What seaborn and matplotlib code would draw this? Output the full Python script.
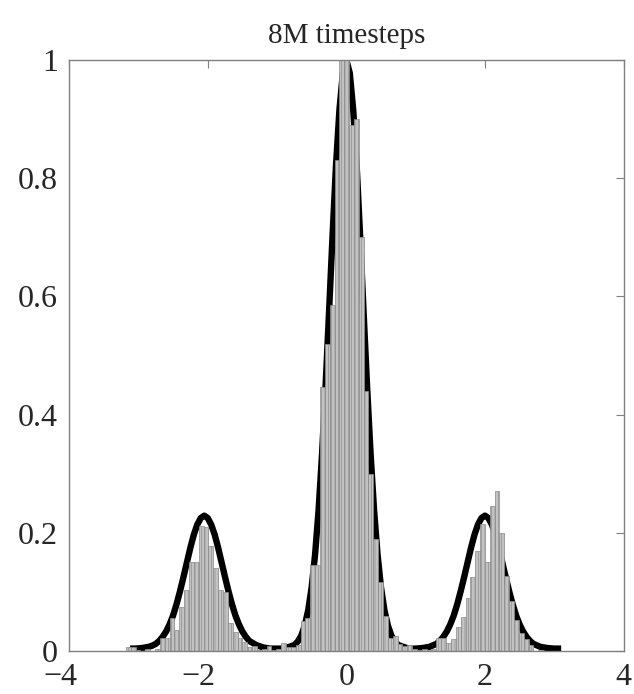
import numpy as np
import pandas as pd
import matplotlib
matplotlib.use("Agg")
import matplotlib.pyplot as plt
import matplotlib.transforms as mtransforms
import seaborn as sns

# ---- data ----
bin_start = -3.18
bin_width = 0.07
hist_heights = [
    0.007, 0.007, 0.002, 0.0, 0.003, 0.0, 0.004, 0.022, 0.022, 0.056,
    0.036, 0.075, 0.104, 0.15, 0.15, 0.212, 0.21, 0.177, 0.14, 0.103,
    0.10, 0.047, 0.032, 0.022, 0.015, 0.007, 0.009, 0.002, 0.004, 0.008,
    0.002, 0.004, 0.013, 0.007, 0.007, 0.01, 0.05, 0.055, 0.146, 0.146,
    0.446, 0.52, 0.586, 0.83, 1.0, 1.0, 0.89, 0.90, 0.70, 0.44,
    0.30, 0.19, 0.117, 0.06, 0.022, 0.025, 0.012, 0.008, 0.01, 0.004,
    0.002, 0.004, 0.002, 0.003, 0.022, 0.022, 0.013, 0.02, 0.04, 0.057,
    0.09, 0.125, 0.17, 0.215, 0.15, 0.245, 0.27, 0.20, 0.127, 0.085,
    0.052, 0.03, 0.02, 0.01, 0.0, 0.002, 0.0, 0.0, 0.0, 0.0,
]

curve_x = [-3.12, -3.05, -2.95, -2.85, -2.8, -2.75, -2.7, -2.65, -2.6, -2.55, -2.5, -2.45, -2.4,
           -2.35, -2.3, -2.25, -2.2, -2.15, -2.1, -2.05, -2.0, -1.95, -1.9, -1.85,
           -1.8, -1.75, -1.7, -1.65, -1.6, -1.55, -1.5, -1.45, -1.4, -1.3, -1.2, -1.1,
           -0.9, -0.8, -0.75, -0.7, -0.65, -0.6, -0.55, -0.5, -0.45, -0.4, -0.35,
           -0.3, -0.25, -0.2, -0.15, -0.1, -0.05, 0.0, 0.05, 0.1, 0.15, 0.2, 0.25,
           0.3, 0.35, 0.4, 0.45, 0.5, 0.55, 0.6, 0.65, 0.7, 0.75, 0.8, 0.9, 1.0,
           1.1, 1.2, 1.3, 1.35, 1.4, 1.45, 1.5, 1.55, 1.6, 1.65, 1.7, 1.75, 1.8, 1.85,
           1.9, 1.95, 2.0, 2.05, 2.1, 2.15, 2.2, 2.25, 2.3, 2.35, 2.4, 2.45, 2.5,
           2.55, 2.6, 2.65, 2.7, 2.8, 2.9, 3.0, 3.1]
curve_y = [0.004, 0.004, 0.005, 0.007, 0.009, 0.012, 0.017, 0.024, 0.033, 0.045, 0.060, 0.079, 0.101,
           0.125, 0.150, 0.175, 0.197, 0.214, 0.225, 0.229, 0.225, 0.214, 0.197, 0.175,
           0.150, 0.125, 0.101, 0.079, 0.060, 0.045, 0.033, 0.024, 0.017, 0.010, 0.006, 0.004,
           0.004, 0.008, 0.010, 0.016, 0.026, 0.043, 0.069, 0.108, 0.164, 0.239, 0.334,
           0.447, 0.572, 0.700, 0.820, 0.915, 0.978, 1.0, 0.978, 0.915, 0.820, 0.700, 0.572,
           0.447, 0.334, 0.239, 0.164, 0.108, 0.069, 0.043, 0.026, 0.016, 0.010, 0.008, 0.004,
           0.004, 0.005, 0.007, 0.012, 0.017, 0.024, 0.033, 0.045, 0.060, 0.079, 0.101, 0.125,
           0.150, 0.175, 0.197, 0.214, 0.225, 0.229, 0.225, 0.214, 0.197, 0.175, 0.150, 0.125,
           0.101, 0.079, 0.060, 0.045, 0.033, 0.024, 0.017, 0.012, 0.007, 0.005, 0.004, 0.004]

title_text = "8M timesteps"
x_ticks = [-4, -2, 0, 2, 4]
y_ticks = [0, 0.2, 0.4, 0.6, 0.8, 1.0]
y_tick_labels = ["0", "0.2", "0.4", "0.6", "0.8", "1"]

# ---- style ----
sns.set_style("white")
plt.rcParams["font.family"] = ["Liberation Serif", "DejaVu Serif"]
plt.rcParams["axes.unicode_minus"] = True
plt.rcParams["hatch.linewidth"] = 0.45

n_bins = len(hist_heights)
edges = [float(e) for e in bin_start + bin_width * np.arange(n_bins + 1)]
centers = [(edges[i] + edges[i + 1]) / 2 for i in range(n_bins)]
hist_df = pd.DataFrame({"x": centers, "w": hist_heights})
curve_df = pd.DataFrame({"x": curve_x, "y": curve_y})

fig = plt.figure(figsize=(6.34, 6.94), dpi=100)
ax = fig.add_axes([0.109, 0.062, 0.8745, 0.8515])

sns.lineplot(data=curve_df, x="x", y="y", ax=ax, color="black", linewidth=4.6,
             sort=False, zorder=1, solid_capstyle="butt")
sns.histplot(data=hist_df, x="x", weights="w", bins=edges, ax=ax,
             color="#c2c2c2", edgecolor="#8a8a8a", linewidth=0.5,
             hatch="|||||", alpha=1.0, zorder=2)

ax.set_xlim(-4, 4)
ax.set_ylim(0, 1)
ax.set_xticks(x_ticks)
ax.set_xticklabels(["\u2212" + str(abs(t)) if t < 0 else str(t) for t in x_ticks])
ax.set_yticks(y_ticks)
ax.set_yticklabels(y_tick_labels)
ax.set_xlabel("")
ax.set_ylabel("")
ax.set_title(title_text, fontsize=21, pad=12)

ax.tick_params(axis="both", direction="in", length=6, width=0.8, color="#808080",
               labelsize=23, top=True, right=True)
ax.tick_params(axis="x", pad=9)
ax.tick_params(axis="y", pad=8)
for s in ax.spines.values():
    s.set_visible(True)
    s.set_color("#808080")
    s.set_linewidth(1.0)

# negative x labels sit slightly left of their ticks in the reference
shift = mtransforms.ScaledTranslation(-9 / 100, 0, fig.dpi_scale_trans)
for lab, t in zip(ax.get_xticklabels(), x_ticks):
    if t < 0:
        lab.set_transform(lab.get_transform() + shift)

fig.savefig("out.png", dpi=100)
